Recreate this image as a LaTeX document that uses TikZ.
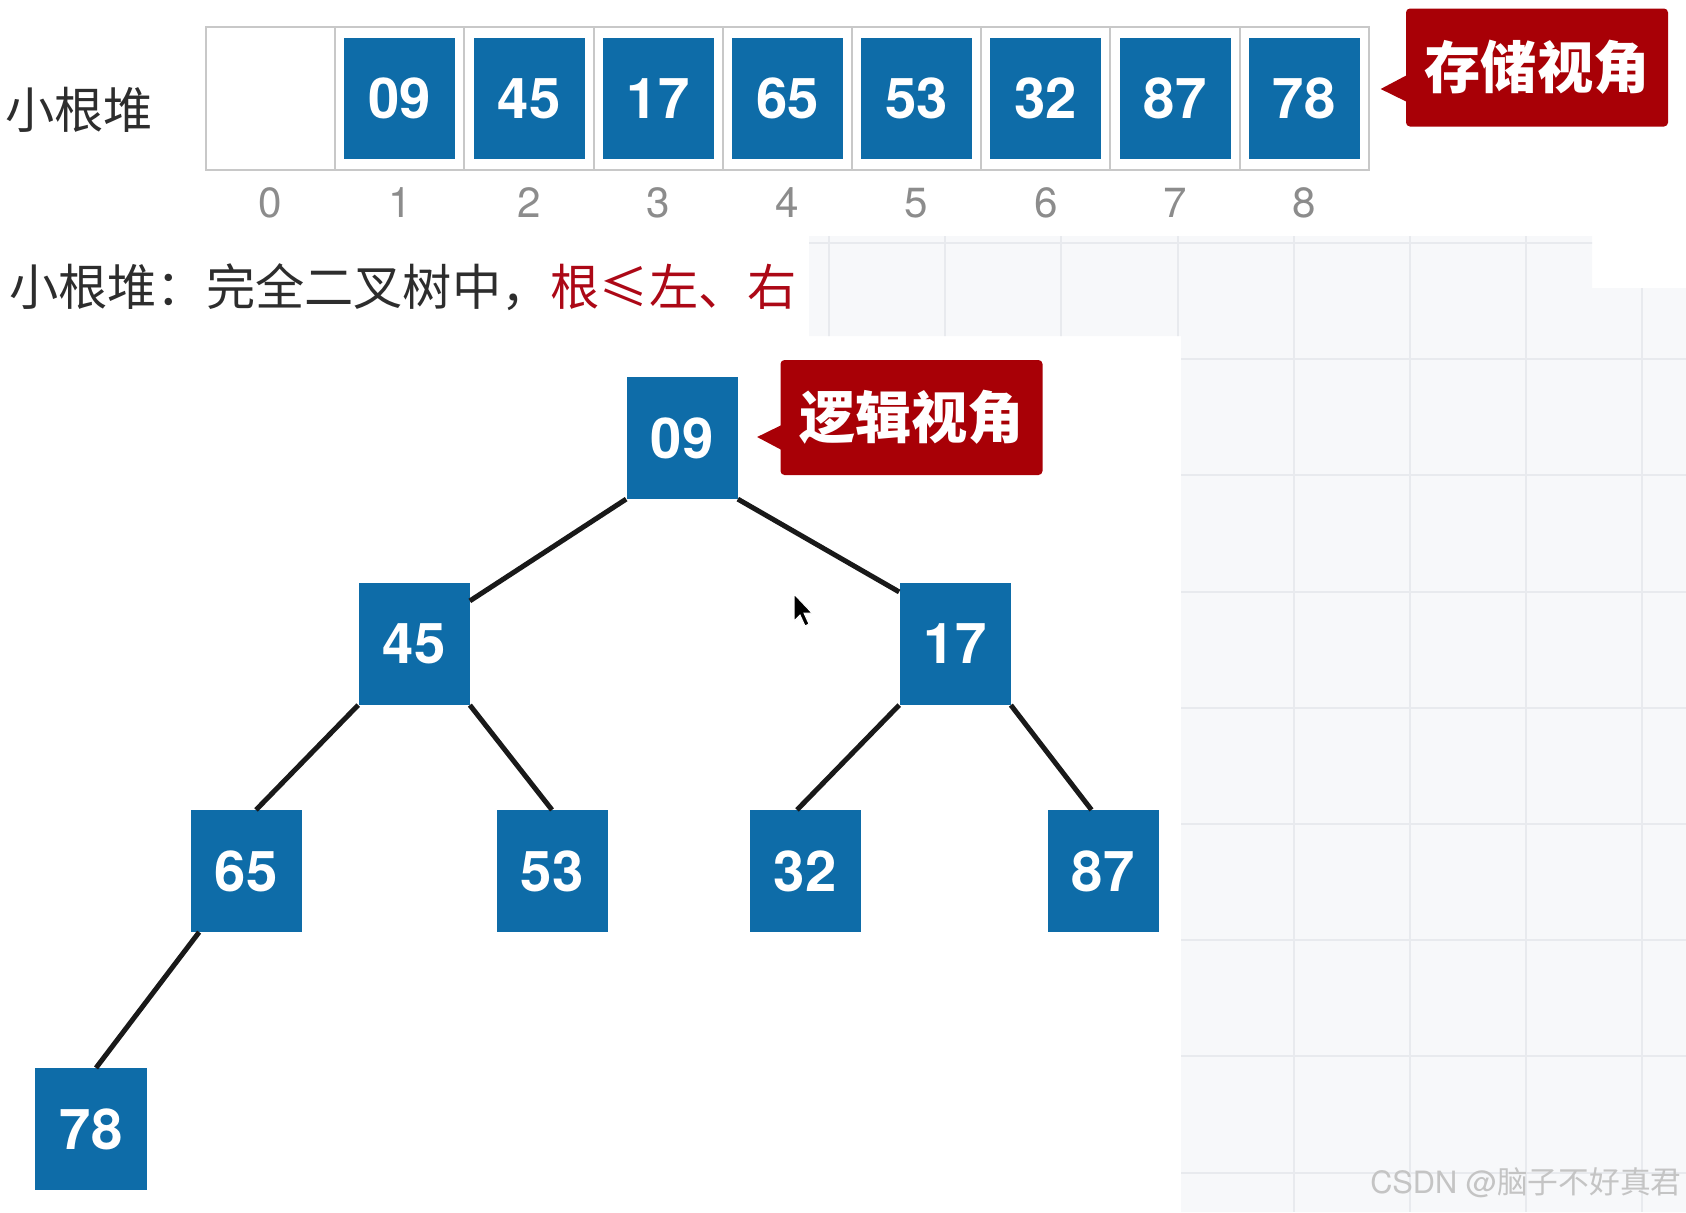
\documentclass[tikz,border=0pt]{standalone}
\usepackage{fontspec}
\setmainfont{TeX Gyre Heros}
\newfontfamily\cjk{Noto Sans CJK SC}
\usepackage{tikz}
\usetikzlibrary{positioning}
\usepackage{xcolor}
\definecolor{heapblue}{RGB}{14,108,168}
\definecolor{tagred}{RGB}{168,0,6}
\definecolor{textred}{RGB}{172,8,22}
\definecolor{idxgray}{RGB}{140,140,140}
\definecolor{cellgray}{RGB}{200,200,200}
\definecolor{darktext}{RGB}{45,45,45}
\definecolor{gridbg}{RGB}{247,248,250}
\definecolor{gridline}{RGB}{232,234,238}
\definecolor{markgray}{RGB}{196,196,196}

\begin{document}
\begin{tikzpicture}[x=0.2mm,y=-0.2mm,
  cell/.style={draw=cellgray,line width=0.4mm,minimum width=25.84mm,minimum height=28.6mm,inner sep=0pt},
  heapkey/.style={fill=heapblue,text=white,font=\fontsize{32}{36}\selectfont\bfseries,minimum width=22.2mm,minimum height=24.3mm,inner sep=0pt},
  idx/.style={text=idxgray,font=\fontsize{24}{28}\selectfont,inner sep=0pt},
  viewtag/.style={fill=tagred,text=white,rounded corners=0.8mm,font=\fontsize{32}{36}\selectfont\cjk\bfseries,minimum width=52.4mm,minimum height=23.6mm,inner sep=0pt},
  link/.style={line width=1mm,draw=black!90},
  title/.style={text=darktext,font=\fontsize{28}{32}\selectfont\cjk,inner sep=0pt,anchor=west}]
\useasboundingbox (0,0) rectangle (1686,1212);

% background grid
\fill[gridbg] (809,236) -- (1592,236) -- (1592,288) -- (1686,288) -- (1686,1212) -- (1181,1212) -- (1181,336) -- (809,336) -- cycle;
\begin{scope}
\clip (809,236) -- (1592,236) -- (1592,288) -- (1686,288) -- (1686,1212) -- (1181,1212) -- (1181,336) -- (809,336) -- cycle;
\foreach \gx in {0,...,7}
  \draw[gridline,line width=0.4mm] ({829+116.2*\gx},236) -- ({829+116.2*\gx},1212);
\foreach \gy in {0,...,8}
  \draw[gridline,line width=0.4mm] (809,{243+116.2*\gy}) -- (1686,{243+116.2*\gy});
\end{scope}

% storage view
\node[title] (heapname) at (5,110) {小根堆};
\foreach \i in {0,...,8} {
  \node[cell] (a\i) at ({270.6+129.2*\i},98.5) {};
  \node[idx] (n\i) at ({270.6+129.2*\i},203) {\i};
}
\foreach \v [count=\i] in {09,45,17,65,53,32,87,78}
  \node[heapkey] (b\i) at (a\i) {\v};

\node[viewtag] (store) at (1537,67.5) {存储视角};
\fill[tagred] ([xshift=0.3mm,yshift=-1.5mm]store.west) -- ([xshift=-5mm,yshift=-4.3mm]store.west) -- ([xshift=0.3mm,yshift=-6.9mm]store.west) -- cycle;

\node[title] (defline) at (9,287) {小根堆：完全二叉树中，\textcolor{textred}{根≤左、右}};

% logic view
\node[heapkey] (t1) at (682,438) {09};
\node[heapkey] (t2) at (414,644) {45};
\node[heapkey] (t3) at (955,644) {17};
\node[heapkey] (t4) at (246,871) {65};
\node[heapkey] (t5) at (552,871) {53};
\node[heapkey] (t6) at (805,871) {32};
\node[heapkey] (t7) at (1103,871) {87};
\node[heapkey] (t8) at (91,1129) {78};

\draw[link] (t1.south west) -- ([yshift=-3.6mm]t2.north east);
\draw[link] (t1.south east) -- ([yshift=-1.8mm]t3.north west);
\draw[link] (t2.south west) -- ([xshift=2mm]t4.north);
\draw[link] (t2.south east) -- (t5.north);
\draw[link] (t3.south west) -- ([xshift=-1.6mm]t6.north);
\draw[link] (t3.south east) -- ([xshift=-2.3mm]t7.north);
\draw[link] ([xshift=1.8mm]t4.south west) -- ([xshift=1mm]t8.north);

\node[viewtag,minimum height=23mm] (logic) at (911.5,417.5) {逻辑视角};
\fill[tagred] ([xshift=0.3mm,yshift=-1.5mm]logic.west) -- ([xshift=-4.6mm,yshift=-3.9mm]logic.west) -- ([xshift=0.3mm,yshift=-6.5mm]logic.west) -- cycle;

% cursor
\fill[black,draw=white,line width=0.2mm] (794,594) -- (794,621) -- (800,615) -- (805,626) -- (809,624) -- (804,613) -- (812,613) -- cycle;

\node[anchor=east,text=markgray,font=\fontsize{17.5}{20}\selectfont,inner sep=0pt] (mark) at (1682,1183) {CSDN @{\cjk 脑子不好真君}};
\end{tikzpicture}
\end{document}
